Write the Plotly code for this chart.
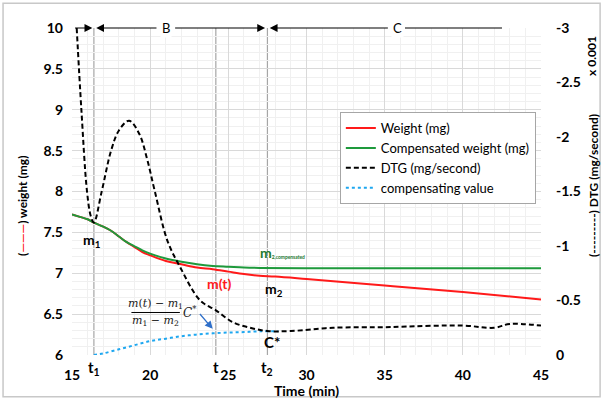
import plotly.graph_objects as go

# ---- data ----
weight_t = [15, 15.5, 16, 16.4, 17, 17.5, 18, 18.5, 19, 19.5, 20, 21, 22, 23, 24, 25, 26, 27, 28, 30, 35, 40, 45]
weight_mg = [7.72, 7.69, 7.66, 7.62, 7.57, 7.52, 7.45, 7.38, 7.32, 7.26, 7.22, 7.15, 7.11, 7.07, 7.05, 7.02, 6.99, 6.97, 6.96, 6.93, 6.85, 6.77, 6.68]

comp_t = [15, 15.5, 16, 16.4, 17, 17.5, 18, 18.5, 19, 19.5, 20, 21, 22, 23, 24, 25, 26, 27, 30, 35, 40, 45]
comp_mg = [7.72, 7.69, 7.66, 7.62, 7.57, 7.52, 7.45, 7.38, 7.33, 7.28, 7.24, 7.18, 7.14, 7.11, 7.09, 7.08, 7.07, 7.065, 7.06, 7.06, 7.06, 7.06]

dtg_t = [15.3, 15.6, 15.96, 16.2, 16.4, 16.9, 17.5, 18.0, 18.65, 19.3, 19.8, 20.3, 21.1, 21.9, 23.2, 24.2, 25.3, 26.4, 27.5, 29, 31.7, 35, 36, 40, 42, 43, 45]
dtg_val = [-3.0, -2.25, -1.5, -1.275, -1.215, -1.5, -1.875, -2.06, -2.15, -2.03, -1.8, -1.5, -1.05, -0.81, -0.50, -0.41, -0.30, -0.25, -0.22, -0.22, -0.25, -0.255, -0.26, -0.27, -0.25, -0.285, -0.27]

cv_t = [16.4, 17, 18, 19, 20, 21, 22, 23, 24, 25, 26, 27, 28.2]
cv_val = [6.0, 6.02, 6.07, 6.12, 6.17, 6.2, 6.23, 6.25, 6.265, 6.275, 6.28, 6.29, 6.29]

x_ticks = [15, 20, 25, 30, 35, 40, 45]
y_ticks = [6, 6.5, 7, 7.5, 8, 8.5, 9, 9.5, 10]
y2_ticks = [0, -0.5, -1, -1.5, -2, -2.5, -3]
y2_labels = ["0", "-0.5", "-1", "-1.5", "-2", "-2.5", "-3"]

t1, t_mid, t2 = 16.4, 24.2, 27.5

FONT = "Lato"
SERIF = "DejaVu Serif"

fig = go.Figure()
fig.add_trace(go.Scatter(x=weight_t, y=weight_mg, mode="lines", name="Weight (mg)",
                         line=dict(color="#ff1a1a", width=2, shape="spline")))
fig.add_trace(go.Scatter(x=comp_t, y=comp_mg, mode="lines", name="Compensated weight (mg)",
                         line=dict(color="#1e9a3c", width=2, shape="spline")))
fig.add_trace(go.Scatter(x=dtg_t, y=dtg_val, mode="lines", name="DTG (mg/second)", yaxis="y2",
                         line=dict(color="black", width=2, dash="5px,3px", shape="spline")))
fig.add_trace(go.Scatter(x=cv_t, y=cv_val, mode="lines", name="compensating value",
                         line=dict(color="#1ea7f0", width=2, dash="dot", shape="spline")))

shapes = []
for tv in (t1, t_mid, t2):
    shapes.append(dict(type="line", xref="x", yref="paper", x0=tv, x1=tv, y0=0, y1=1,
                       line=dict(color="#a6a6a6", width=1.2), layer="below"))
# fraction bar
shapes.append(dict(type="line", xref="x", yref="y", x0=18.8, x1=21.9, y0=6.52, y1=6.52,
                   line=dict(color="black", width=1)))
# outer border
shapes.append(dict(type="rect", xref="paper", yref="paper", x0=-0.147, x1=1.126, y0=-0.128, y1=1.076,
                   line=dict(color="#c8c8c8", width=1.5)))

ann = []
def txt(x, y, s, size=13, color="black", family=FONT, **kw):
    d = dict(x=x, y=y, xref="x", yref="y", text=s, showarrow=False,
             font=dict(family=family, size=size, color=color))
    d.update(kw)
    ann.append(d)

def arrow(x, y, ax, ay, head=2):
    ann.append(dict(x=x, y=y, ax=ax, ay=ay, xref="x", yref="y", axref="x", ayref="y",
                    text="", showarrow=True, arrowhead=head, arrowsize=1.3, arrowwidth=1.2,
                    arrowcolor="black"))

# top region arrows
arrow(t1 - 0.1, 10, 15.1, 10)
arrow(t1 + 0.15, 10, 20.5, 10)
arrow(t2 - 0.15, 10, 21.5, 10)
arrow(t2 + 0.15, 10, 35.3, 10)
ann.append(dict(x=36.3, y=10, ax=42.6, ay=10, xref="x", yref="y", axref="x", ayref="y",
                text="", showarrow=True, arrowhead=0, arrowwidth=1.2, arrowcolor="black"))
txt(21.0, 10, "B", size=13, bgcolor="white")
txt(35.8, 10, "C", size=13, bgcolor="white")

txt(16.3, 7.4, "<b>m<sub>1</sub></b>", size=14)
txt(26.9, 7.25, "<b>m<span style='font-size:7px'><sub>2,compensated</sub></span></b>", size=14,
    color="#1e7a30", xanchor="left")
txt(24.4, 6.88, "<b>m(t)</b>", size=14, color="#ff1a1a")
txt(27.9, 6.8, "<b>m<sub>2</sub></b>", size=14)
txt(27.8, 6.16, "<b>C*</b>", size=15)
txt(20.35, 6.62, "<i>m</i>(<i>t</i>) − <i>m</i><sub>1</sub>", size=11, color="#222", family=SERIF)
txt(20.35, 6.42, "<i>m</i><sub>1</sub> − <i>m</i><sub>2</sub>", size=11, color="#222", family=SERIF)
txt(22.0, 6.53, "<i>C</i><sup>*</sup>", size=12, color="#222", family=SERIF, xanchor="left")
ann.append(dict(x=24.0, y=6.32, ax=23.1, ay=6.52, xref="x", yref="y", axref="x", ayref="y",
                text="", showarrow=True, arrowhead=2, arrowsize=1.2, arrowwidth=1.3,
                arrowcolor="#2f6fc9"))

# t labels under the axis
for tv, s in ((t1, "t<sub>1</sub>"), (t_mid, "t"), (t2, "t<sub>2</sub>")):
    ann.append(dict(x=tv, y=0, xref="x", yref="paper", yanchor="top", yshift=-1,
                    text="<b>" + s + "</b>", showarrow=False,
                    font=dict(family=FONT, size=15, color="black")))
# x 0.001
ann.append(dict(x=1.109, y=0.915, xref="paper", yref="paper", xanchor="center", yanchor="middle",
                text="<b>x 0.001</b>",
                textangle=-90, showarrow=False, font=dict(family=FONT, size=12, color="black")))
# axis titles
ann.append(dict(x=-0.1045, y=0.456, xref="paper", yref="paper", xanchor="center", yanchor="middle",
                text="<b>(<span style='color:#ff1a1a'>———</span>) weight (mg)</b>",
                textangle=-90, showarrow=False, font=dict(family=FONT, size=12, color="black")))
ann.append(dict(x=1.113, y=0.52, xref="paper", yref="paper", xanchor="center", yanchor="middle",
                text="<b>(---------) DTG (mg/second)</b>",
                textangle=-90, showarrow=False, font=dict(family=FONT, size=12, color="black")))

fig.update_layout(
    width=603, height=399,
    margin=dict(l=72, r=62, t=28, b=44, autoexpand=False),
    paper_bgcolor="white", plot_bgcolor="white",
    font=dict(family=FONT, size=13, color="black"),
    showlegend=True,
    legend=dict(x=0.989, y=0.743, xanchor="right", yanchor="top",
                bgcolor="white", bordercolor="#a6a6a6", borderwidth=1,
                font=dict(family=FONT, size=13, color="black"),
                tracegroupgap=0, itemwidth=30),
    xaxis=dict(range=[15, 45], tickvals=x_ticks, showgrid=True, gridcolor="#d9d9d9",
               zeroline=False, showline=False, ticks="", automargin=False, ticklabelstandoff=10,
               tickfont=dict(family=FONT, size=14, color="black", weight="bold"),
               minor=dict(dtick=1, showgrid=True, gridcolor="#f0f0f0"),
               title=dict(text="<b>Time (min)</b>", font=dict(family=FONT, size=14), standoff=0)),
    yaxis=dict(range=[6, 10], tickvals=y_ticks, showgrid=True, gridcolor="#d9d9d9",
               zeroline=False, showline=False, ticks="", automargin=False, ticklabelstandoff=8,
               tickfont=dict(family=FONT, size=14, color="black", weight="bold"),
               minor=dict(dtick=0.1, showgrid=True, gridcolor="#f0f0f0")),
    yaxis2=dict(range=[0, -3], overlaying="y", side="right", tickvals=y2_ticks, ticktext=y2_labels,
                showgrid=False, zeroline=False, showline=False, ticks="", automargin=False,
                ticklabelstandoff=14,
                tickfont=dict(family=FONT, size=14, color="black", weight="bold")),
    shapes=shapes,
    annotations=ann,
)

fig.write_html("out.html", config={"displayModeBar": False},
               post_script="document.body.style.margin='0';")
